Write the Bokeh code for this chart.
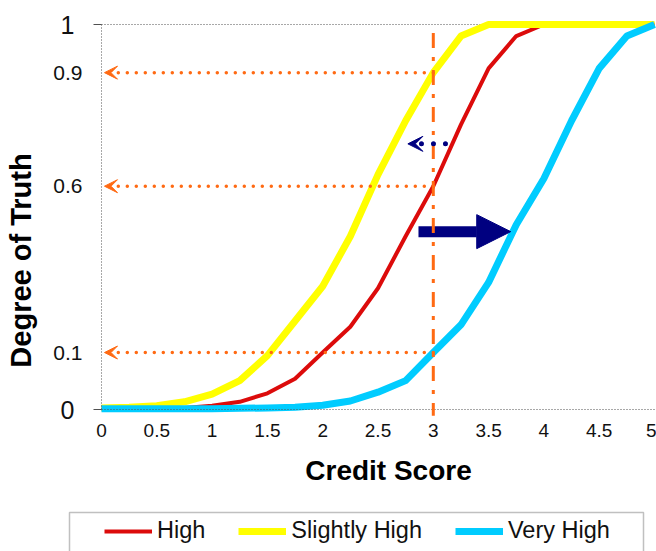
import math
from bokeh.plotting import figure
from bokeh.models import (Range1d, FixedTicker, Arrow, NormalHead, VeeHead, Label,
                          Legend, LegendItem, BoxAnnotation, LinearAxis)
from bokeh.embed import file_html
from bokeh.resources import INLINE

# ---------------- data ----------------
credit_score = [0, 0.25, 0.5, 0.75, 1, 1.25, 1.5, 1.75, 2, 2.25, 2.5,
                2.75, 3, 3.25, 3.5, 3.75, 4, 4.25, 4.5, 4.75, 5]
high = [0.002, 0.002, 0.003, 0.004, 0.01, 0.02, 0.042, 0.08, 0.148, 0.215, 0.315,
        0.45, 0.58, 0.74, 0.886, 0.97, 1.0, 1.0, 1.0, 1.0, 1.0]
slightly_high = [0.004, 0.006, 0.01, 0.02, 0.04, 0.075, 0.14, 0.23, 0.32, 0.45, 0.61,
                 0.75, 0.875, 0.97, 1.0, 1.0, 1.0, 1.0, 1.0, 1.0, 1.0]
very_high = [0.002, 0.002, 0.002, 0.002, 0.002, 0.003, 0.004, 0.006, 0.011, 0.022, 0.045,
             0.075, 0.148, 0.22, 0.33, 0.48, 0.6, 0.75, 0.886, 0.97, 1.0]

series_names = ["High", "Slightly High", "Very High"]
series_values = [high, slightly_high, very_high]
series_colors = ["#DC0B0B", "#FFFF00", "#00CCFF"]
series_widths = [4, 7, 7]

reference_score = 3
level_series = [slightly_high, high, very_high]
level_labels = ["0.9", "0.6", "0.1"]

x_ticks = [0, 0.5, 1, 1.5, 2, 2.5, 3, 3.5, 4, 4.5, 5]
x_tick_labels = ["0", "0.5", "1", "1.5", "2", "2.5", "3", "3.5", "4", "4.5", "5"]
y_ticks = [0, 1]
y_tick_labels = ["0", "1"]

shift_arrow_x = [2.866, 3.70]
shift_arrow_y = 0.462
back_arrow_x = [3.11, 2.77]
back_arrow_y = 0.69
vline_y = [0.978, -0.016]

FONT = "Liberation Sans"
ORANGE = "#FF6A13"
NAVY = "#000080"
AXIS_GREY = "#505050"

# ---------------- layout (pixels) ----------------
W, H = 656, 551
X0_PX, X5_PX = 101, 654      # where x=0 and x=5 sit
Y0_PX, Y1_PX = 409, 24       # where y=0 and y=1 sit (from top)
sx = (X5_PX - X0_PX) / 5.0
sy = (Y0_PX - Y1_PX) / 1.0

x_range = Range1d(-X0_PX / sx, (W - X0_PX) / sx)
y_range = Range1d(-(H - Y0_PX) / sy, Y0_PX / sy)

p = figure(width=W, height=H, output_backend="svg", toolbar_location=None,
           x_range=x_range, y_range=y_range,
           min_border_left=0, min_border_right=0, min_border_top=0,
           min_border_bottom=0, x_axis_location=None, y_axis_location=None)
p.outline_line_color = None
p.background_fill_color = "white"
p.border_fill_color = "white"
p.xgrid.visible = False
p.ygrid.visible = False

xa = LinearAxis(fixed_location=0, bounds=(0, 5))
xa.ticker = FixedTicker(ticks=x_ticks)
xa.major_label_overrides = {t: s for t, s in zip(x_ticks, x_tick_labels)}
xa.axis_line_color = AXIS_GREY
xa.axis_line_dash = "1 2"
xa.major_tick_out = 0
xa.major_tick_in = 0
xa.minor_tick_line_color = None
xa.major_label_text_font = FONT
xa.major_label_text_font_size = "19px"
xa.major_label_text_color = "#111111"
xa.major_label_standoff = 14
p.add_layout(xa, "below")

ya = LinearAxis(fixed_location=0, bounds=(0, 1))
ya.ticker = FixedTicker(ticks=y_ticks)
ya.major_label_overrides = {t: s for t, s in zip(y_ticks, y_tick_labels)}
ya.axis_line_color = AXIS_GREY
ya.axis_line_dash = "1 2"
ya.major_tick_out = 8
ya.major_tick_in = 0
ya.major_tick_line_color = AXIS_GREY
ya.minor_tick_line_color = None
ya.major_label_text_font = FONT
ya.major_label_text_font_size = "25px"
ya.major_label_text_color = "#111111"
ya.major_label_standoff = 19
p.add_layout(ya, "left")

# top boundary line at y = 1 (under the curves)
p.add_layout(Arrow(x_start=0, y_start=1, x_end=x_range.end, y_end=1, end=None,
                   line_color=AXIS_GREY, line_width=1, line_dash="1 2",
                   level="underlay"))

# curves
renderers = []
for name, vals, col, lw in zip(series_names, series_values, series_colors, series_widths):
    r = p.line(credit_score, vals, line_color=col, line_width=lw, line_join="round")
    renderers.append(r)

# big shift arrow
p.add_layout(Arrow(x_start=shift_arrow_x[0], y_start=shift_arrow_y,
                   x_end=shift_arrow_x[1], y_end=shift_arrow_y,
                   line_color=NAVY, line_width=11,
                   end=NormalHead(size=34, fill_color=NAVY, line_color=NAVY, line_width=1)))

# vertical dash-dot line at the reference score
p.add_layout(Arrow(x_start=reference_score, y_start=vline_y[0],
                   x_end=reference_score, y_end=vline_y[1], end=None,
                   line_color=ORANGE, line_width=3, line_dash="15 9 4 9"))

# horizontal dotted arrows at the crossing levels + their labels
i_ref = credit_score.index(reference_score)
for vals, lab in zip(level_series, level_labels):
    lv = vals[i_ref]
    p.add_layout(Arrow(x_start=reference_score, y_start=lv, x_end=0.027, y_end=lv,
                       line_color=ORANGE, line_width=3.5, line_dash="0 9",
                       line_cap="round",
                       end=VeeHead(size=13, fill_color=ORANGE, line_color=ORANGE,
                                   line_width=1)))
    p.add_layout(Label(x=0, y=lv, x_offset=-19, text=lab, text_align="right",
                       text_baseline="middle", text_font=FONT,
                       text_font_size="21px", text_color="#111111"))

# small dotted navy arrow
p.add_layout(Arrow(x_start=back_arrow_x[0], y_start=back_arrow_y,
                   x_end=back_arrow_x[1], y_end=back_arrow_y,
                   line_color=NAVY, line_width=5, line_dash="0 12", line_cap="round",
                   end=VeeHead(size=15, fill_color=NAVY, line_color=NAVY, line_width=1)))

# axis titles
p.add_layout(Label(x=0, y=0.387, x_offset=-81, text="Degree of Truth",
                   angle=math.pi / 2, text_align="center", text_baseline="middle",
                   text_font=FONT, text_font_size="29px", text_font_style="bold",
                   text_color="#000000"))
p.add_layout(Label(x=2.595, y=0, y_offset=-61, text="Credit Score",
                   text_align="center", text_baseline="middle",
                   text_font=FONT, text_font_size="28px", text_font_style="bold",
                   text_color="#000000"))

# legend (screen units from the canvas bottom-left)
legend = Legend(items=[LegendItem(label=n, renderers=[r]) for n, r in zip(series_names, renderers)],
                orientation="horizontal", location=(104, 7),
                border_line_color=None, background_fill_alpha=0, padding=0,
                spacing=33, glyph_width=48, glyph_height=24, label_height=24,
                label_standoff=5, label_text_font=FONT, label_text_font_size="23.5px",
                label_text_color="#111111", margin=0)
p.add_layout(legend)
p.add_layout(BoxAnnotation(left=69, right=643, top=H - 512, bottom=-10,
                           left_units="screen", right_units="screen",
                           top_units="screen", bottom_units="screen",
                           fill_color=None, fill_alpha=0,
                           line_color="#303030", line_width=1.5))

open("out.html", "w").write(file_html(p, INLINE))
